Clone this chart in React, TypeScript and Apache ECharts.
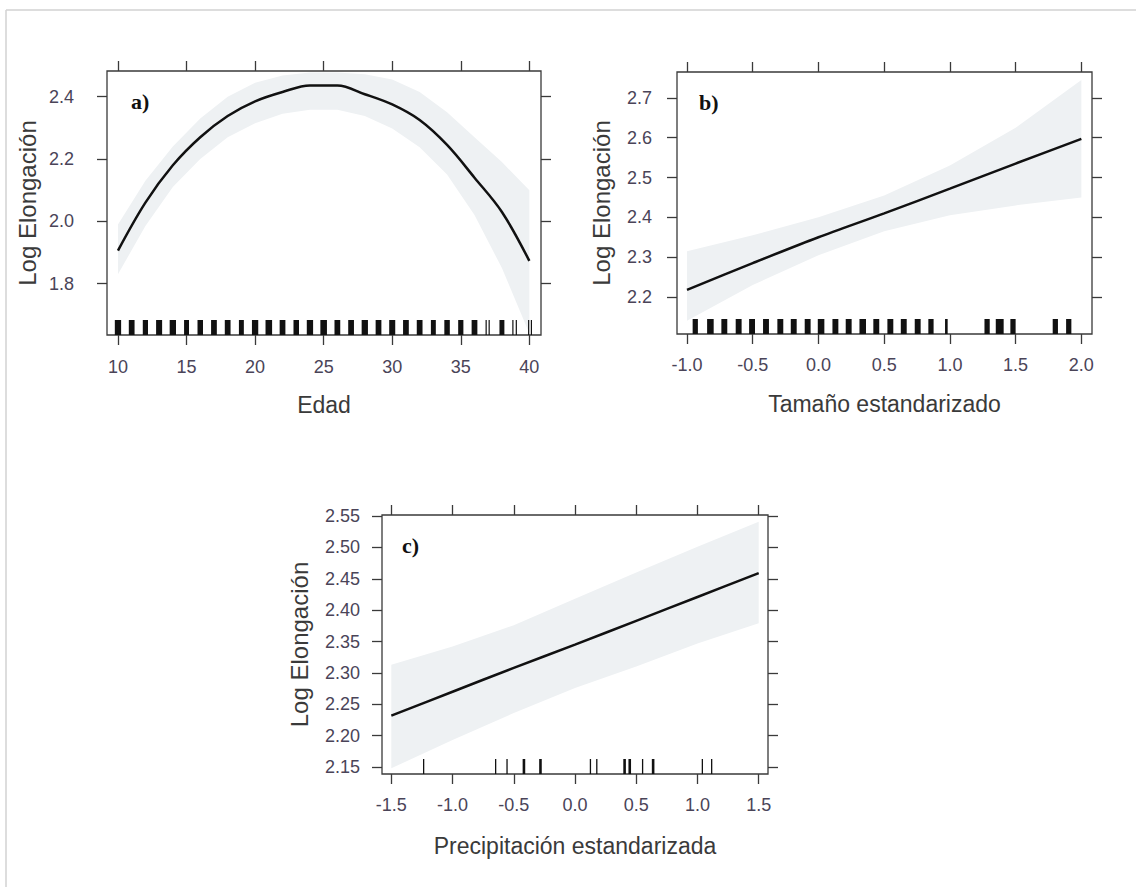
import React, { useEffect, useRef } from "react";
import * as echarts from "echarts";

// ---------- Panel a: Edad ----------
const ageX = [10, 12, 14, 16, 18, 20, 22, 24, 26, 28, 30, 32, 34, 36, 38, 40];
const ageFit = [1.906, 2.06, 2.18, 2.27, 2.338, 2.385, 2.415, 2.436, 2.436, 2.408, 2.375, 2.325, 2.245, 2.14, 2.03, 1.873];
const ageUpper = [1.99, 2.13, 2.24, 2.33, 2.4, 2.445, 2.468, 2.478, 2.478, 2.472, 2.455, 2.415, 2.35, 2.27, 2.19, 2.1];
const ageLower = [1.83, 1.985, 2.11, 2.2, 2.27, 2.315, 2.345, 2.358, 2.358, 2.338, 2.298, 2.238, 2.15, 2.02, 1.85, 1.64];
const ageXTicks = [10, 15, 20, 25, 30, 35, 40];
const ageYTicks = [1.8, 2.0, 2.2, 2.4];
// rug: [value, spread]
const ageRugThick = [
  [10, 0.46], [11, 0.42], [12, 0.38], [13, 0.44], [14, 0.46], [15, 0.36], [16, 0.4], [17, 0.42],
  [18, 0.42], [19, 0.36], [20, 0.46], [21, 0.48], [22, 0.42], [23, 0.4], [24, 0.46], [25, 0.48],
  [26, 0.42], [27, 0.42], [28, 0.46], [29, 0.42], [30, 0.44], [31, 0.42], [32, 0.42], [33, 0.36],
  [34, 0.4], [35, 0.38], [36, 0.42], [38, 0.36],
];
const ageRugThin = [[36.85, 0], [37.07, 0], [38.8, 0], [39.05, 0], [39.95, 0], [40.15, 0]];

// ---------- Panel b: Tamaño estandarizado ----------
const sizeX = [-1, -0.5, 0, 0.5, 1, 1.5, 2];
const sizeFit = [2.218, 2.285, 2.35, 2.41, 2.472, 2.535, 2.597];
const sizeUpper = [2.315, 2.355, 2.4, 2.455, 2.53, 2.625, 2.745];
const sizeLower = [2.14, 2.23, 2.305, 2.365, 2.405, 2.43, 2.45];
const sizeXTicks = [-1, -0.5, 0, 0.5, 1, 1.5, 2];
const sizeYTicks = [2.2, 2.3, 2.4, 2.5, 2.6, 2.7];
const sizeRugThick = [
  [-0.937, 0.04], [-0.822, 0.05], [-0.716, 0.045], [-0.607, 0.045], [-0.505, 0.045], [-0.399, 0.045],
  [-0.29, 0.045], [-0.188, 0.045], [-0.082, 0.045], [0.02, 0.05], [0.129, 0.045], [0.23, 0.045],
  [0.337, 0.05], [0.44, 0.045], [0.547, 0.045], [0.649, 0.045], [0.755, 0.045], [0.856, 0.04],
  [0.973, 0.02], [1.283, 0.04], [1.379, 0.06], [1.48, 0.04], [1.802, 0.04], [1.904, 0.04],
];

// ---------- Panel c: Precipitación estandarizada ----------
const precX = [-1.5, -1, -0.5, 0, 0.5, 1, 1.5];
const precFit = [2.232, 2.27, 2.308, 2.345, 2.383, 2.421, 2.459];
const precUpper = [2.313, 2.342, 2.376, 2.418, 2.46, 2.501, 2.541];
const precLower = [2.148, 2.193, 2.236, 2.276, 2.31, 2.347, 2.379];
const precXTicks = [-1.5, -1, -0.5, 0, 0.5, 1, 1.5];
const precYTicks = [2.15, 2.2, 2.25, 2.3, 2.35, 2.4, 2.45, 2.5, 2.55];
const precRugThin = [[-1.236, 0], [-0.648, 0], [-0.555, 0], [0.126, 0], [0.178, 0], [0.552, 0], [1.04, 0], [1.116, 0]];
const precRugThick = [[-0.417, 0], [-0.282, 0], [0.405, 0], [0.447, 0], [0.638, 0]];

const AX = "#3a3a3a";
const LABEL = "#4a4458";
const TITLE = "#3a3a3a";
const BAND = "#eef1f3";
const FONT = "Arial, 'Liberation Sans', sans-serif";

const pairs = (xs: number[], ys: number[]) => xs.map((x, i) => [x, ys[i]]);

function xAxes(gi: number, min: number, max: number, ticks: number[], dec: number, name: string, nameGap: number, margin: number) {
  const tick = { show: true, inside: false, length: 10, customValues: ticks, lineStyle: { color: AX, width: 1.3 } };
  return [
    {
      type: "value", gridIndex: gi, min, max, position: "bottom",
      axisLine: { show: false, onZero: false }, splitLine: { show: false }, axisTick: tick,
      axisLabel: { customValues: ticks, formatter: (v: number) => v.toFixed(dec), margin, color: LABEL, fontSize: 18, fontFamily: FONT },
      name, nameLocation: "middle", nameGap,
      nameTextStyle: { fontSize: 23, color: TITLE, fontFamily: FONT },
    },
    {
      type: "value", gridIndex: gi, min, max, position: "top",
      axisLine: { show: false, onZero: false }, splitLine: { show: false }, axisTick: tick, axisLabel: { show: false },
    },
  ];
}

function yAxes(gi: number, min: number, max: number, ticks: number[], dec: number, nameGap: number, margin: number) {
  const tick = { show: true, inside: false, length: 10, customValues: ticks, lineStyle: { color: AX, width: 1.3 } };
  return [
    {
      type: "value", gridIndex: gi, min, max, position: "left",
      axisLine: { show: false, onZero: false }, splitLine: { show: false }, axisTick: tick,
      axisLabel: { customValues: ticks, formatter: (v: number) => v.toFixed(dec), margin, color: LABEL, fontSize: 18, fontFamily: FONT },
      name: "Log Elongación", nameLocation: "middle", nameGap,
      nameTextStyle: { fontSize: 24, color: TITLE, fontFamily: FONT },
    },
    {
      type: "value", gridIndex: gi, min, max, position: "right",
      axisLine: { show: false, onZero: false }, splitLine: { show: false }, axisTick: tick, axisLabel: { show: false },
    },
  ];
}

function bandSeries(xi: number, xs: number[], up: number[], lo: number[]) {
  const data = xs.map((x, i) => [x, lo[i], up[i]]);
  return {
    type: "custom", xAxisIndex: xi, yAxisIndex: xi, data, silent: true, z: 1,
    encode: { x: 0, y: [1, 2] },
    renderItem: (params: any, api: any) => {
      if (params.dataIndex !== 0) return null;
      const top = data.map((d) => api.coord([d[0], d[2]]));
      const bot = data.map((d) => api.coord([d[0], d[1]])).reverse();
      return { type: "polygon", shape: { points: top.concat(bot) }, style: { fill: BAND } };
    },
  };
}

function fitSeries(xi: number, xs: number[], fit: number[], smooth: number) {
  return {
    type: "line", xAxisIndex: xi, yAxisIndex: xi, data: pairs(xs, fit), smooth,
    showSymbol: false, silent: true, lineStyle: { color: "#111", width: 2.5 }, z: 4,
  };
}

function rugSeries(xi: number, data: number[][], minW: number) {
  return {
    type: "custom", xAxisIndex: xi, yAxisIndex: xi, data, silent: true, z: 5,
    renderItem: (params: any, api: any) => {
      const v = api.value(0);
      const s = api.value(1);
      const a = api.coord([v - s / 2, 0]);
      const b = api.coord([v + s / 2, 0]);
      const cs = params.coordSys;
      const bottom = cs.y + cs.height;
      const w = Math.max(b[0] - a[0], minW);
      const cx = (a[0] + b[0]) / 2;
      return { type: "rect", shape: { x: cx - w / 2, y: bottom - 15, width: w, height: 15 }, style: { fill: "#111" } };
    },
  };
}

export default function App() {
  const ref = useRef<HTMLDivElement>(null);
  useEffect(() => {
    if (!ref.current) return;
    const chart = echarts.init(ref.current, null, { renderer: "svg" });
    const gridStyle = { show: true, borderColor: AX, borderWidth: 1.3, backgroundColor: "rgba(0,0,0,0)" };
    const serif = "'Liberation Serif', 'Times New Roman', serif";
    const option: any = {
      animation: false,
      backgroundColor: "#ffffff",
      grid: [
        { left: 107, top: 71, width: 434, height: 264, ...gridStyle },
        { left: 677, top: 72, width: 415, height: 262, ...gridStyle },
        { left: 382, top: 515, width: 386, height: 259, ...gridStyle },
      ],
      xAxis: [
        ...xAxes(0, 9.2, 40.85, ageXTicks, 0, "Edad", 58, 23),
        ...xAxes(1, -1.076, 2.081, sizeXTicks, 1, "Tamaño estandarizado", 58, 22),
        ...xAxes(2, -1.576, 1.576, precXTicks, 1, "Precipitación estandarizada", 60, 22),
      ],
      yAxis: [
        ...yAxes(0, 1.635, 2.4825, ageYTicks, 1, 68, 33),
        ...yAxes(1, 2.107, 2.765, sizeYTicks, 1, 64, 25),
        ...yAxes(2, 2.1389, 2.5516, precYTicks, 2, 71, 22),
      ],
      series: [
        bandSeries(0, ageX, ageUpper, ageLower),
        bandSeries(2, sizeX, sizeUpper, sizeLower),
        bandSeries(4, precX, precUpper, precLower),
        fitSeries(0, ageX, ageFit, 0.35),
        fitSeries(2, sizeX, sizeFit, 0.3),
        fitSeries(4, precX, precFit, 0.3),
        rugSeries(0, ageRugThick, 1.3),
        rugSeries(0, ageRugThin, 1.2),
        rugSeries(2, sizeRugThick, 1.3),
        rugSeries(4, precRugThin, 1.3),
        rugSeries(4, precRugThick, 2.6),
      ],
      graphic: [
        { type: "line", shape: { x1: 6, y1: 10, x2: 1136, y2: 10 }, style: { stroke: "#d2d2d2", lineWidth: 1.5 } },
        { type: "line", shape: { x1: 6, y1: 10, x2: 6, y2: 887 }, style: { stroke: "#d2d2d2", lineWidth: 1.5 } },
        { type: "text", x: 131, y: 90, style: { text: "a)", fontSize: 22, fontWeight: "bold", fontFamily: serif, fill: "#111", verticalAlign: "top" } },
        { type: "text", x: 699, y: 91, style: { text: "b)", fontSize: 22, fontWeight: "bold", fontFamily: serif, fill: "#111", verticalAlign: "top" } },
        { type: "text", x: 402, y: 534, style: { text: "c)", fontSize: 22, fontWeight: "bold", fontFamily: serif, fill: "#111", verticalAlign: "top" } },
      ],
    };
    chart.setOption(option);
    return () => chart.dispose();
  }, []);
  return <div ref={ref} style={{ position: "fixed", left: 0, top: 0, width: 1136, height: 887, background: "#fff" }} />;
}
